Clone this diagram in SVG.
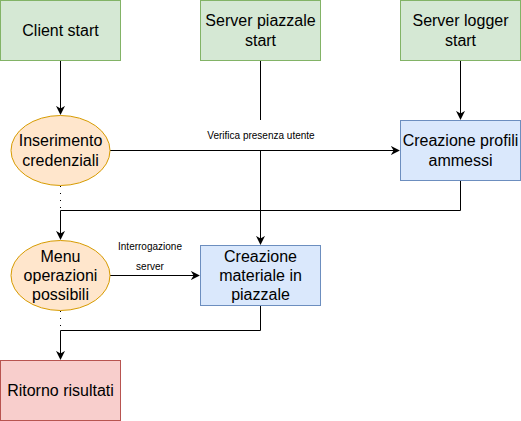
<svg xmlns="http://www.w3.org/2000/svg" width="521" height="421" viewBox="0 0 521 421">
<defs>
<style>
.t{font-family:"Liberation Sans",Arial,sans-serif;font-size:16px;fill:#000;text-anchor:middle}
.l{font-family:"Liberation Sans",Arial,sans-serif;font-size:10px;fill:#000;text-anchor:middle}
.g{fill:#d5e8d4;stroke:#82b366;stroke-width:1}
.o{fill:#ffe6cc;stroke:#d79b00;stroke-width:1}
.b{fill:#dae8fc;stroke:#6c8ebf;stroke-width:1}
.r{fill:#f8cecc;stroke:#b85450;stroke-width:1}
.e{fill:none;stroke:#000;stroke-width:1}
.d{fill:none;stroke:#000;stroke-width:1;stroke-dasharray:1 6}
</style>
<marker id="a" viewBox="0 0 10 10" refX="9" refY="5" markerWidth="9" markerHeight="9" markerUnits="userSpaceOnUse" orient="auto">
<path d="M0,0 L10,5 L0,10 L3,5 Z" fill="#000"/>
</marker>
</defs>
<rect width="521" height="421" fill="#fff"/>
<g id="connectors">
<path class="e" d="M60.5,60 V114" marker-end="url(#a)"/>
<path class="e" d="M460.5,60 V119" marker-end="url(#a)"/>
<path class="e" d="M260.5,60 V244" marker-end="url(#a)"/>
<rect x="206" y="120" width="110" height="30" fill="#fff"/>
<path class="e" d="M110,150.5 H399" marker-end="url(#a)"/>
<path class="e" d="M460.5,180 V210.5 H60.5 V239" marker-end="url(#a)"/>
<path class="d" d="M60.5,186 V210"/>
<path class="e" d="M110,275.5 H199" marker-end="url(#a)"/>
<path class="d" d="M60.5,311 V330"/>
<path class="e" d="M260.5,305 V330.5 H60.5 V359" marker-end="url(#a)"/>
<text class="l" x="261" y="139">Verifica presenza utente</text>
<text class="l" x="150" y="249.5">Interrogazione</text>
<text class="l" x="150" y="269.5">server</text>
</g>
<g id="client-start">
<rect class="g" x="0.5" y="0.5" width="120" height="60"/>
<text class="t" x="60.5" y="36">Client start</text>
</g>
<g id="server-piazzale-start">
<rect class="g" x="200.5" y="0.5" width="120" height="60"/>
<text class="t" x="260.5" y="26">Server piazzale</text>
<text class="t" x="260.5" y="45.5">start</text>
</g>
<g id="server-logger-start">
<rect class="g" x="400.5" y="0.5" width="120" height="60"/>
<text class="t" x="460.5" y="26">Server logger</text>
<text class="t" x="460.5" y="45.5">start</text>
</g>
<g id="inserimento-credenziali">
<ellipse class="o" cx="60.5" cy="150.5" rx="49.5" ry="35"/>
<text class="t" x="60.5" y="146">Inserimento</text>
<text class="t" x="60.5" y="165.5">credenziali</text>
</g>
<g id="creazione-profili">
<rect class="b" x="400.5" y="120.5" width="120" height="60"/>
<text class="t" x="460.5" y="146">Creazione profili</text>
<text class="t" x="460.5" y="165.5">ammessi</text>
</g>
<g id="menu-operazioni">
<ellipse class="o" cx="60.5" cy="275.5" rx="49.5" ry="35"/>
<text class="t" x="60.5" y="261.5">Menu</text>
<text class="t" x="60.5" y="281">operazioni</text>
<text class="t" x="60.5" y="300">possibili</text>
</g>
<g id="creazione-materiale">
<rect class="b" x="200.5" y="245.5" width="120" height="60"/>
<text class="t" x="260.5" y="261.5">Creazione</text>
<text class="t" x="260.5" y="281">materiale in</text>
<text class="t" x="260.5" y="300">piazzale</text>
</g>
<g id="ritorno-risultati">
<rect class="r" x="0.5" y="360.5" width="120" height="60"/>
<text class="t" x="60.5" y="396">Ritorno risultati</text>
</g>
</svg>
